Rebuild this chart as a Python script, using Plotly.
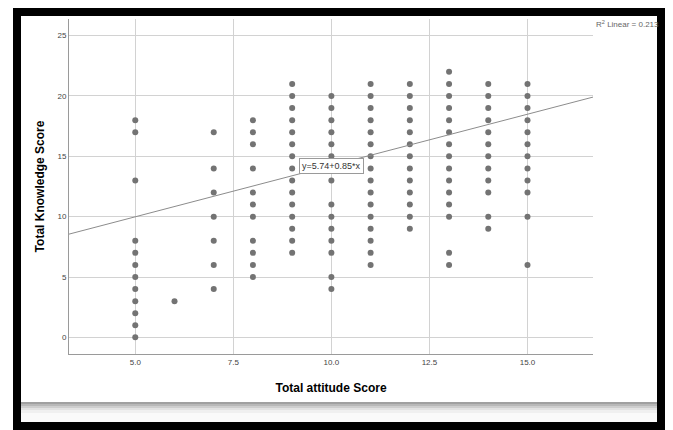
import plotly.graph_objects as go

# ---- data ----
attitude_scores = [5, 6, 7, 8, 9, 10, 11, 12, 13, 14, 15]
k5 = [0, 1, 2, 3, 4, 5, 6, 7, 8, 13, 17, 18]
k6 = [3]
k7 = [4, 6, 8, 10, 12, 14, 17]
k8 = [5, 6, 7, 8, 10, 11, 12, 14, 16, 17, 18]
k9 = [7, 8, 9, 10, 11, 12, 13, 14, 15, 16, 17, 18, 19, 20, 21]
k10 = [4, 5, 7, 8, 9, 10, 11, 13, 14, 15, 16, 17, 18, 19, 20]
k11 = [6, 7, 8, 9, 10, 11, 12, 13, 14, 15, 16, 17, 18, 19, 20, 21]
k12 = [9, 10, 11, 12, 13, 14, 15, 16, 17, 18, 19, 20, 21]
k13 = [6, 7, 10, 11, 12, 13, 14, 15, 16, 17, 18, 19, 20, 21, 22]
k14 = [9, 10, 12, 13, 14, 15, 16, 17, 18, 19, 20, 21]
k15 = [6, 10, 12, 13, 14, 15, 16, 17, 18, 19, 20, 21]
knowledge_lists = [k5, k6, k7, k8, k9, k10, k11, k12, k13, k14, k15]

fit_intercept = 5.74
fit_slope = 0.85
r2_linear = 0.213

x_ticks = [5.0, 7.5, 10.0, 12.5, 15.0]
y_ticks = [0, 5, 10, 15, 20, 25]
x_range = [3.31, 16.67]
y_range = [-1.38, 26.38]

xs, ys = [], []
for a, ks in zip(attitude_scores, knowledge_lists):
    for k in ks:
        xs.append(a)
        ys.append(k)

FONT = "Liberation Sans, Arial, sans-serif"
OFF = 8  # page body margin of the browser
W, H = 673 - OFF, 430 - OFF
# plot area in screen pixels: x 69..593, y 19..354
L, T = 69 - OFF, 19 - OFF
R, B = W - (593 - OFF), H - (354 - OFF)
PW, PH = W - L - R, H - T - B


def px(x):
    return (x - OFF - L) / PW


def py(y):
    return 1 - (y - OFF - T) / PH


fig = go.Figure()
fig.add_trace(go.Scatter(
    x=xs, y=ys, mode="markers",
    marker=dict(size=6, color="#737373"),
    showlegend=False, hoverinfo="x+y",
))
line_x = x_range
line_y = [fit_intercept + fit_slope * v for v in line_x]
fig.add_trace(go.Scatter(
    x=line_x, y=line_y, mode="lines",
    line=dict(color="#8c8c8c", width=1),
    showlegend=False, hoverinfo="skip",
))

mid_x = 10.0
fig.add_annotation(
    x=mid_x, y=fit_intercept + fit_slope * mid_x, xref="x", yref="y",
    text=f"y={fit_intercept:.2f}+{fit_slope:.2f}*x", showarrow=False,
    font=dict(family=FONT, size=9, color="#333333"),
    bgcolor="white", bordercolor="#9a9a9a", borderwidth=1, borderpad=2,
)
fig.add_annotation(
    x=px(594), y=py(24), xref="paper", yref="paper",
    xanchor="left", yanchor="middle",
    text=f"R<sup>2</sup> Linear = {r2_linear:.3f}", showarrow=False,
    font=dict(family=FONT, size=8, color="#666666"),
)

shapes = []


def rect(x0, y0, x1, y1, color):
    shapes.append(dict(type="rect", xref="paper", yref="paper",
                       x0=px(x0), x1=px(x1), y0=py(y1), y1=py(y0),
                       fillcolor=color, line=dict(width=0), layer="above"))


# shadow bands
rect(665, 8, 673, 430, "#d4d4d4")
rect(669, 8, 673, 430, "#ececec")
rect(21, 402, 657, 404, "#a0a0a0")
rect(21, 404, 657, 406, "#b8b8b8")
rect(21, 406, 657, 408, "#cecece")
rect(21, 408, 657, 410, "#e2e2e2")
rect(21, 410, 657, 413, "#f0f0f0")
rect(21, 413, 657, 422, "#fafafa")
# black frame
rect(13, 8, 665, 16, "black")
rect(13, 8, 21, 430, "black")
rect(657, 8, 665, 430, "black")
rect(13, 422, 665, 430, "black")

fig.update_layout(
    width=W, height=H,
    margin=dict(l=L, r=R, t=T, b=B, pad=0),
    paper_bgcolor="white", plot_bgcolor="white",
    font=dict(family=FONT),
    shapes=shapes,
    xaxis=dict(
        range=x_range, tickvals=x_ticks, tickformat=".1f",
        showgrid=True, gridcolor="#d2d2d2", gridwidth=1,
        zeroline=False, showline=True, linecolor="#9a9a9a", linewidth=1,
        ticks="", tickfont=dict(family=FONT, size=8, color="#444444"),
        title=dict(text="<b>Total attitude Score</b>", standoff=18,
                   font=dict(family=FONT, size=12, color="black")),
    ),
    yaxis=dict(
        range=y_range, tickvals=y_ticks,
        showgrid=True, gridcolor="#d2d2d2", gridwidth=1,
        zeroline=False, showline=True, linecolor="#9a9a9a", linewidth=1,
        ticks="", tickfont=dict(family=FONT, size=8, color="#444444"),
        title=dict(text="<b>Total Knowledge Score</b>", standoff=10,
                   font=dict(family=FONT, size=12, color="black")),
    ),
)

fig.write_html("out.html")
